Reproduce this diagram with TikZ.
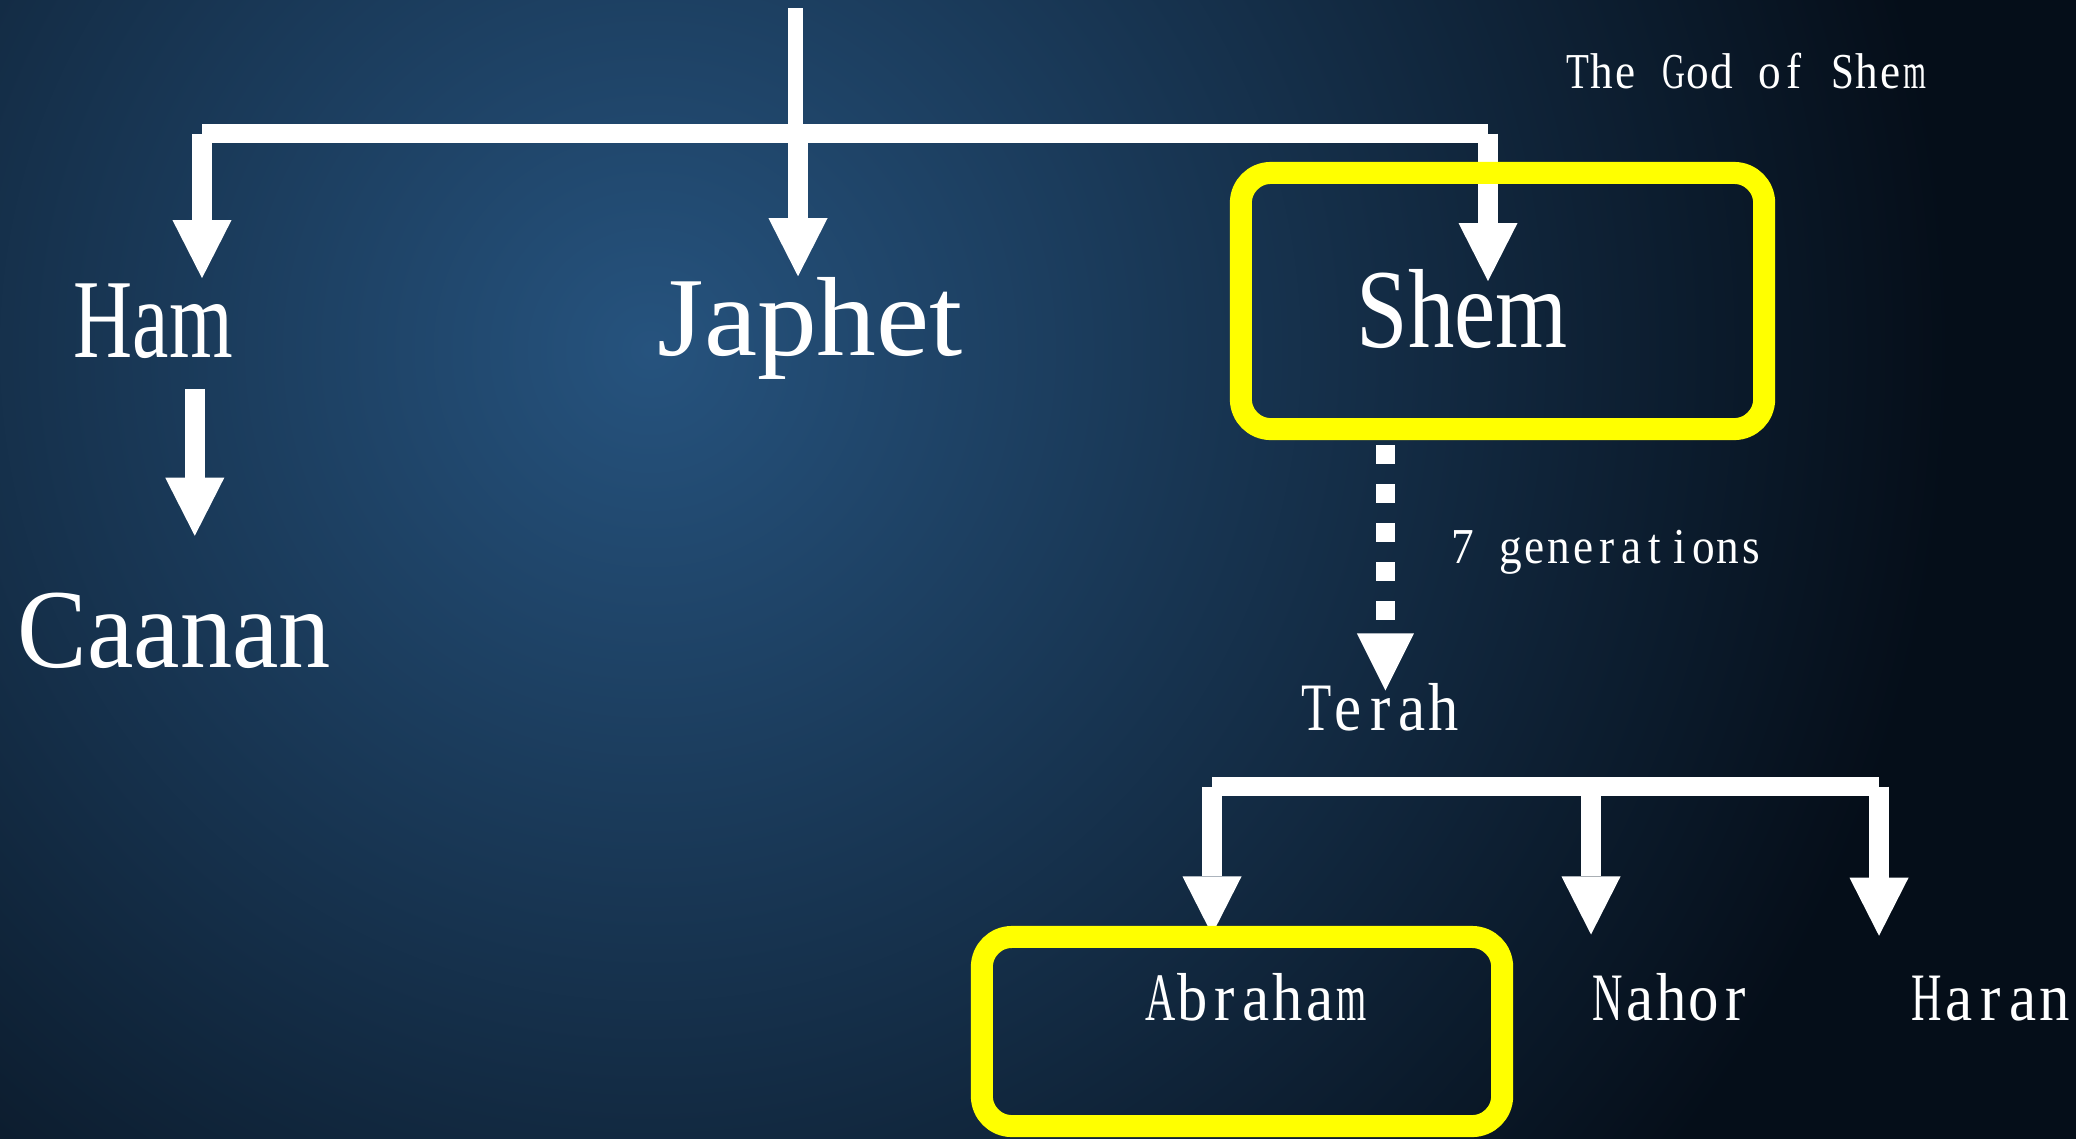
\documentclass[tikz,border=0pt]{standalone}
\usepackage{fontspec}
\setmainfont{Liberation Serif}
\usetikzlibrary{arrows.meta}
\definecolor{bgin}{RGB}{38,83,126}
\definecolor{bgout}{RGB}{5,14,25}
\definecolor{hl}{RGB}{255,255,0}
\newcommand\wfit[2]{\resizebox{#1}{\height}{#2}}
\makeatletter
\newlength\mono@wl
\newlength\mono@gw
\newcommand\mono[2]{\setlength\mono@wl{#1}\mono@loop#2\@nil}
\def\mono@loop#1{\ifx#1\@nil\else\mono@char{#1}\expandafter\mono@loop\fi}
\newcommand\mono@char[1]{\settowidth\mono@gw{#1}\mono@gw=0.9\mono@gw
  \makebox[\mono@wl][c]{\ifdim\mono@gw>0.95\mono@wl\relax
    \resizebox{0.95\mono@wl}{\height}{#1}\else\scalebox{0.9}[1]{#1}\fi}}
\makeatother
\begin{document}
\begin{tikzpicture}[x=0.01cm,y=-0.01cm,
  lbl/.style={text=white, inner sep=0pt, anchor=base west},
  big/.style={lbl, font=\fontsize{32pt}{38pt}\selectfont},
  mid/.style={lbl, font=\fontsize{19.3pt}{23pt}\selectfont},
  sml/.style={lbl, font=\fontsize{14.3pt}{17pt}\selectfont},
  bar/.style={draw=white, line width=0.19cm},
  stem/.style={draw=white, line width=0.15cm},
  arr/.style={draw=white, line width=0.2cm, -{Triangle[length=0.58cm, width=0.59cm, line width=0pt]}},
  dasharr/.style={draw=white, line width=0.19cm, dash pattern=on 0.19cm off 0.2cm, -{Triangle[length=0.57cm, width=0.57cm, line width=0pt]}},
  hbox/.style={draw=hl, line width=0.22cm, rounded corners=0.3cm, inner sep=0pt},
]
\useasboundingbox (0,0) rectangle (2076,1138);
\fill[bgout] (-20,-20) rectangle (2096,1158);
\begin{scope}
  \clip (-20,-20) rectangle (2096,1158);
  \shade[inner color=bgin, outer color=bgout] (650,350) circle (13cm);
\end{scope}

% labels
\node[big] (ham) at (73,357) {\wfit{1.59cm}{Ham}};
\node[big] (japhet) at (657,355) {\wfit{3.05cm}{Japhet}};
\node[big] (shem) at (1356,347) {\wfit{2.11cm}{Shem}};
\node[big] (caanan) at (17,667) {\wfit{3.13cm}{Caanan}};
\node[sml] (god) at (1565,88) {\mono{0.2405cm}{The~God~of~Shem}};
\node[sml] (gen) at (1450,563) {\mono{0.2405cm}{7~generations}};
\node[mid] (terah) at (1300,730) {\mono{0.318cm}{Terah}};
\node[mid] (abraham) at (1144,1020) {\mono{0.318cm}{Abraham}};
\node[mid] (nahor) at (1591,1020) {\mono{0.32cm}{Nahor}};
\node[mid] (haran) at (1910,1020) {\mono{0.32cm}{Haran}};

% top tree
\coordinate (src) at (795.5,8);
\coordinate (jL) at (202,133.5);
\coordinate (jM) at (798,133.5);
\coordinate (jR) at (1488,133.5);
\draw[stem] (src) -- (src |- jL);
\draw[bar] (jL) -- (jR);
\draw[arr, shorten >=0.045cm] (jL) -- (jL |- ham.north);
\draw[arr] (jM) -- (jM |- japhet.north);
\draw[arr, shorten >=-0.128cm] (jR) -- (jR |- shem.north);

% Ham -> Caanan
\coordinate (cs) at ([xshift=0.415cm]ham.south);
\draw[arr, shorten <=0.30cm, shorten >=0.56cm] (cs) -- (cs |- caanan.north);

% Shem box
\node[hbox, minimum width=5.23cm, minimum height=2.56cm] (shembox) at (1502.5,301) {};

% Shem -> Terah (7 generations)
\coordinate (ds) at ([xshift=-1.17cm]shembox.south);
\draw[dasharr, shorten <=0.05cm, shorten >=-0.083cm] (ds) -- (ds |- terah.north);

% bottom tree
\coordinate (bL) at (1212,786.5);
\coordinate (bM) at (1591,786.5);
\coordinate (bR) at (1879,786.5);
\draw[bar] (bL) -- (bR);
\draw[arr, shorten >=0.377cm] (bL) -- (bL |- abraham.north);
\draw[arr, shorten >=0.377cm] (bM) -- (bM |- nahor.north);
\draw[arr, shorten >=0.391cm] (bR) -- (bR |- haran.north);

% Abraham box
\node[hbox, minimum width=5.20cm, minimum height=1.89cm] (abrbox) at (1242,1031.5) {};
\end{tikzpicture}
\end{document}
